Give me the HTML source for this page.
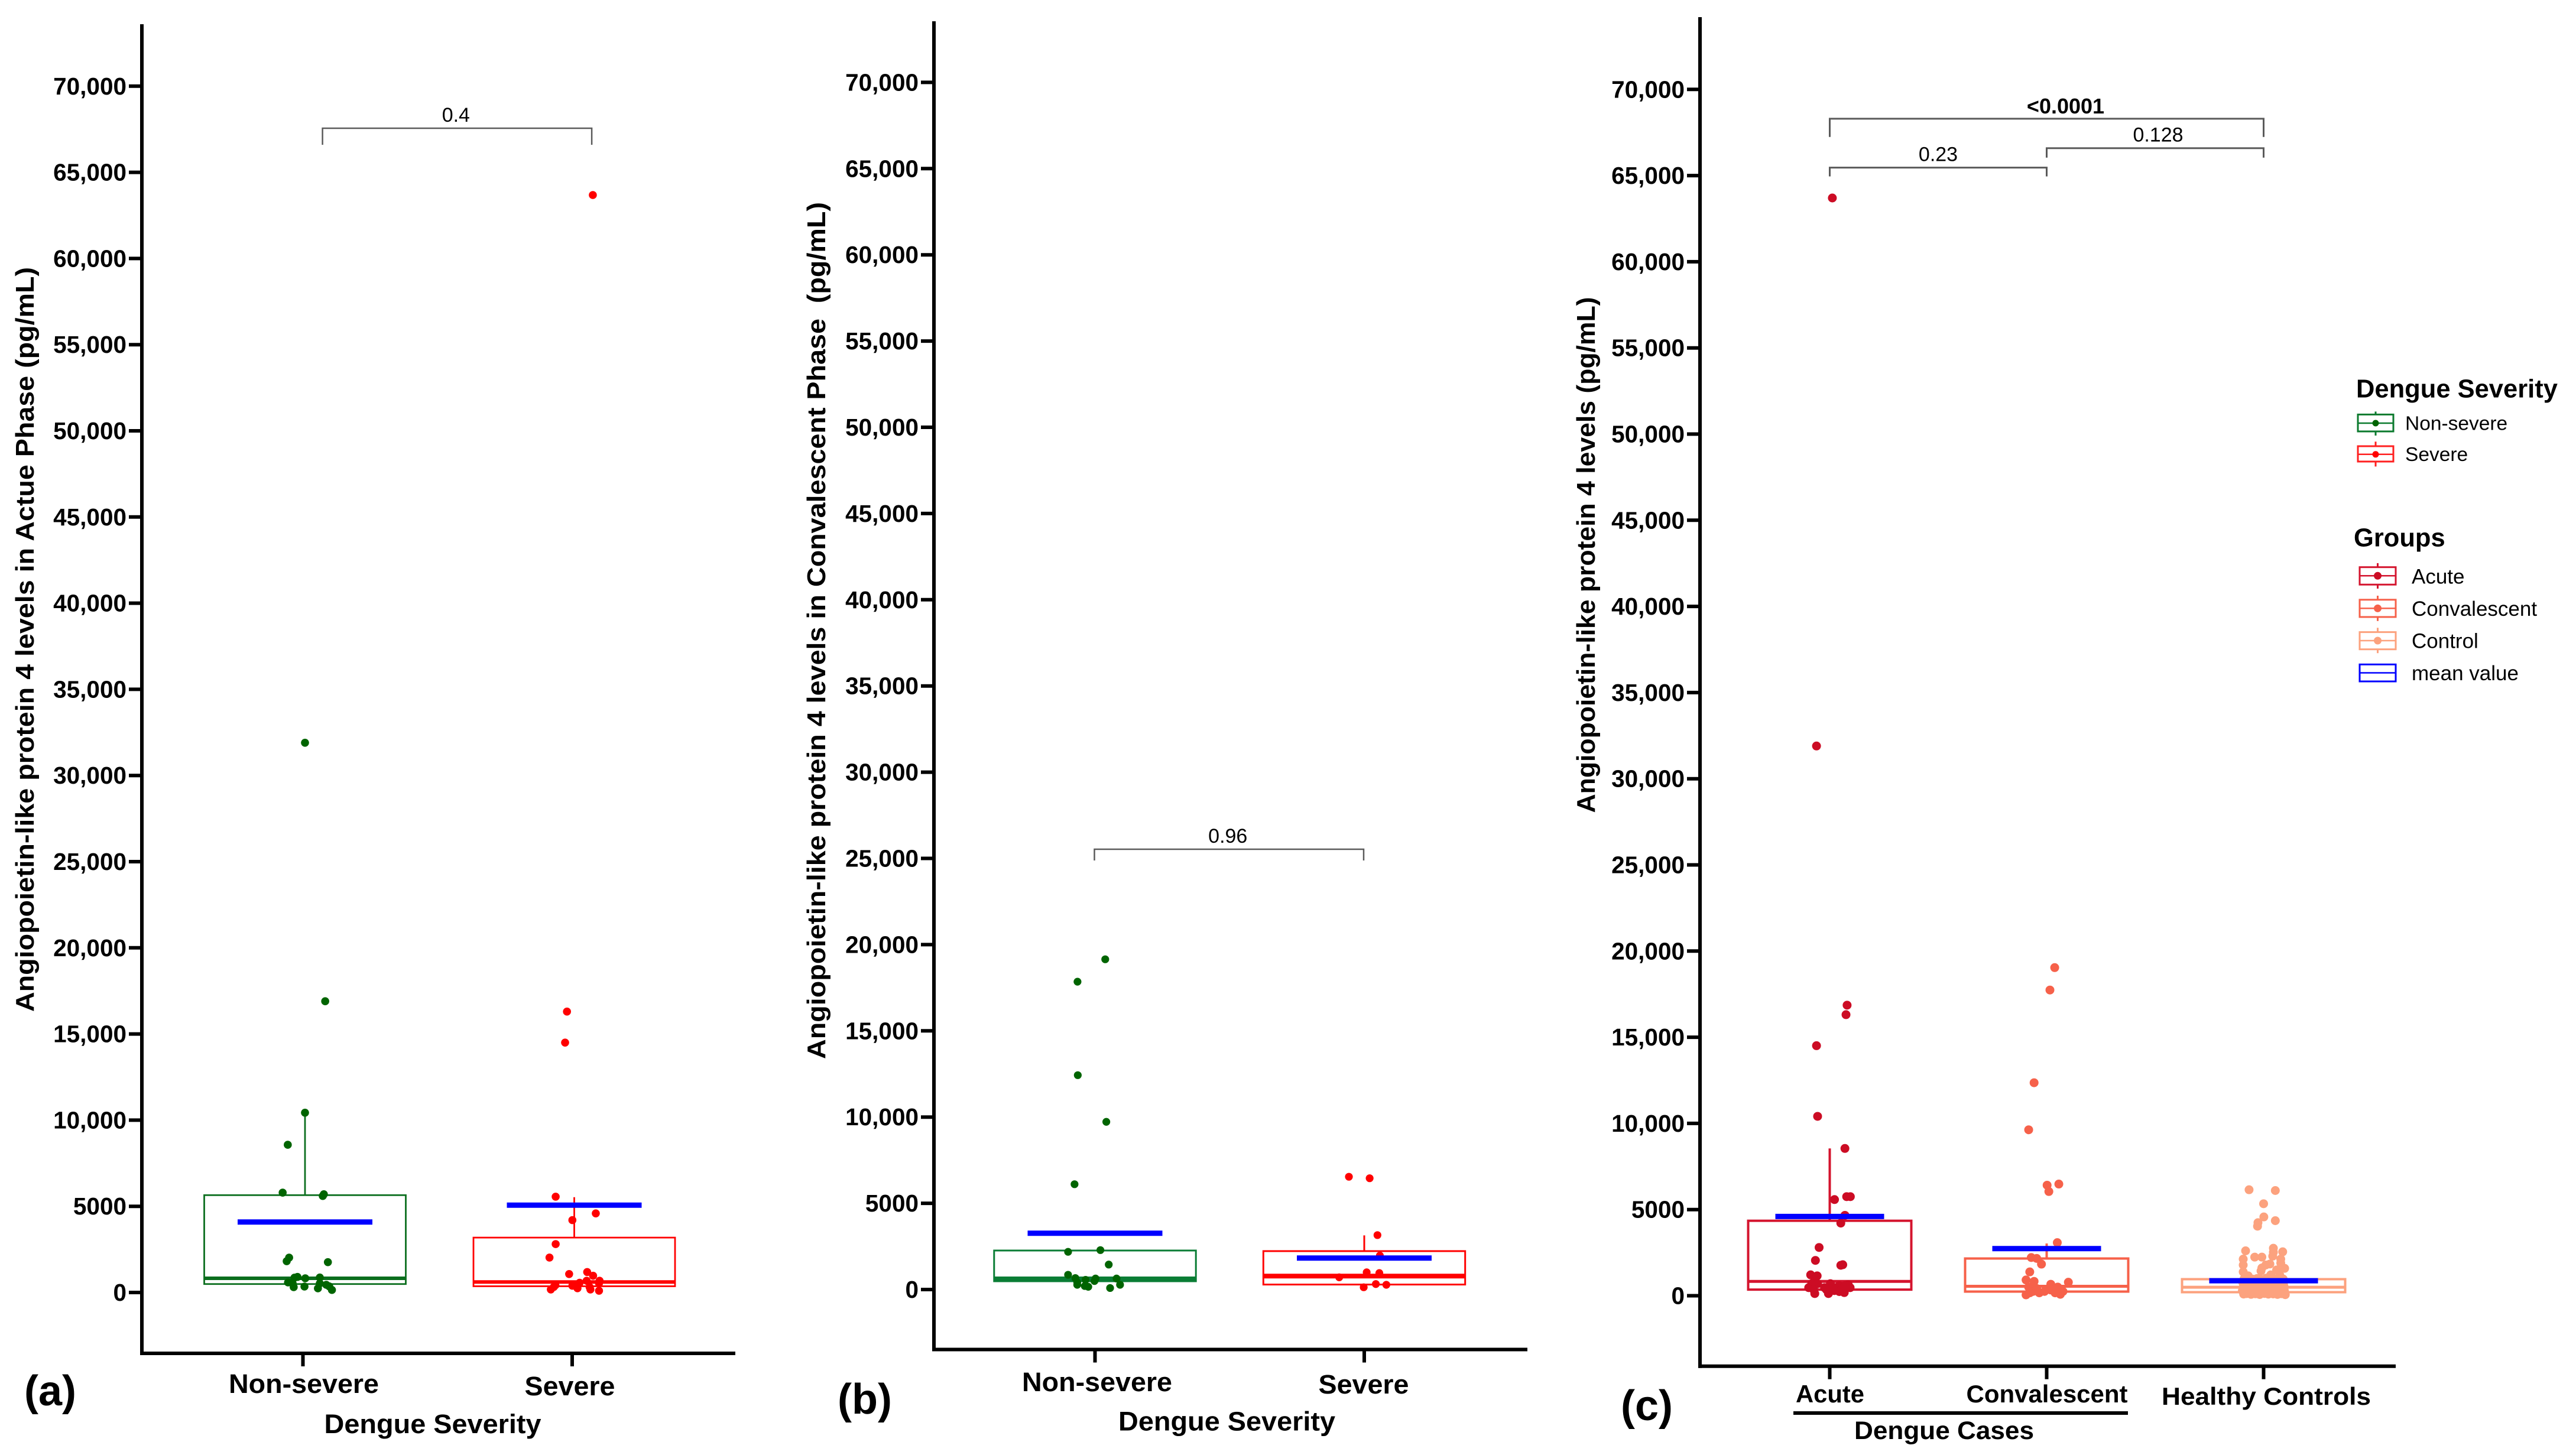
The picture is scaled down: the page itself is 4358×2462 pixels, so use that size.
<!DOCTYPE html>
<html lang="en">
<head>
<meta charset="utf-8">
<title>Angiopoietin-like protein 4 levels in dengue</title>
<style>
html,body{margin:0;padding:0;background:#fff;}
svg{display:block;font-family:"Liberation Sans",Arial,sans-serif;}
</style>
</head>
<body>
<svg id="figure" xmlns="http://www.w3.org/2000/svg" width="4358" height="2462" viewBox="0 0 4358 2462">
<rect width="4358" height="2462" fill="#ffffff"/>
</svg>
<script>
// ---------- shared axis data ----------
const tickValues = [0,5000,10000,15000,20000,25000,30000,35000,40000,45000,50000,55000,60000,65000,70000];
const tickLabels = ['0','5000','10,000','15,000','20,000','25,000','30,000','35,000','40,000','45,000','50,000','55,000','60,000','65,000','70,000'];

// ---------- panel (a) data ----------
const aCategories = ['Non-severe','Severe'];
const aNonSevereValues = [31900,16900,10433,8570,5795,5700,5600,2023,1817,1760,902,860,823,868,583,525,309,343,240,525,446,353,147];
const aNonSevereJitter = [0,.075,0,-.064,-.083,.07,.066,-.059,-.068,.085,-.028,-.039,.001,.055,-.063,-.046,-.042,-.002,.048,.055,.079,.09,.1];
const aSevereValues = [63683,16300,14500,5559,4589,4198,2808,2027,1071,1187,970,680,565,680,420,318,174,391,246,463,318,174,101,536];
const aSevereJitter = [.069,-.027,-.034,-.069,.08,-.007,-.069,-.092,-.019,.048,.07,.046,.02,.094,-.07,-.076,-.087,-.007,.012,.015,.057,.06,.092,.092];
const aQ1 = [490,362];
const aMedian = [823,608];
const aQ3 = [5648,3185];
const aMean = [4091,5067];
const aWhiskerTop = [10433,5530];

// ---------- panel (b) data ----------
const bCategories = ['Non-severe','Severe'];
const bNonSevereValues = [19150,17850,12430,9724,6106,2185,2286,1447,854,666,420,564,637,637,275,203,159,87,492,275];
const bNonSevereJitter = [.038,-.065,-.064,.042,-.076,-.1,.02,.051,-.1,-.073,-.066,-.035,.002,.08,.093,-.038,-.025,.056,-.002,-.066];
const bSevereValues = [6540,6454,3155,1968,998,955,709,130,318,275];
const bSevereJitter = [-.057,.02,.049,.058,.009,.056,-.093,-.002,.043,.082];
const bQ1 = [480,289];
const bMedian = [617,781];
const bQ3 = [2262,2228];
const bMean = [3266,1823];
const bWhiskerTop = [2262,3140];

// ---------- panel (c) data ----------
const cCategories = ['Acute','Convalescent','Healthy Controls'];
const cAcuteValues = [63700,31900,16860,16310,14510,10410,8546,5580,5750,5750,4665,4215,2800,2050,1800,1766,1212,1155,926,697,697,469,354,126,354,126,697,469,469,583,240,183,583,469,640,297,411,469];
const cAcuteJitter = [.012,-.061,.08,.075,-.061,-.056,.07,.022,.078,.095,.07,.051,-.049,-.066,.06,.051,-.088,-.058,-.069,-.083,-.056,-.097,-.074,-.069,-.015,-.006,.003,.008,.026,.044,.044,.067,.071,.094,.085,.021,.058,-.024];
const cConvalescentValues = [19040,17740,12360,9630,6414,6480,6048,3082,2216,2166,1833,1383,916,833,500,50,250,167,666,333,500,783,83,250,167,416,167,250];
const cConvalescentJitter = [.037,.015,-.058,-.083,.002,.056,.01,.049,-.071,-.046,-.024,-.078,-.095,-.058,-.083,-.095,-.063,-.034,.019,.019,.051,.1,.063,-.01,.039,-.046,-.078,.075];
const cControlValues = [6150,6104,5338,4572,4355,4240,4035,2606,2755,2526,2549,2240,2240,2297,2126,2126,1783,1783,1897,1612,1840,1589,1497,1383,1440,1154,1212,1212,
  985,1010,960,1000,940,1020,990,965,1005,975,
  770,735,790,710,760,800,745,720,780,755,
  510,545,480,530,500,560,470,525,495,540,
  290,320,265,300,340,275,310,250,330,285,
  95,120,80,110,70,130,90,105,75,115,60];
const cControlJitter = [-.067,.054,0,.001,.054,-.026,-.028,-.083,.045,.045,.088,-.041,-.008,.042,-.094,.079,-.094,.01,.079,-.008,.029,.097,.06,-.094,-.012,-.071,.033,.074,
  -.09,-.07,-.05,-.03,-.01,.012,.03,.05,.07,.09,
  -.096,-.074,-.056,-.034,-.014,.006,.028,.046,.068,.092,
  -.094,-.076,-.052,-.036,-.012,.008,.024,.048,.066,.094,
  -.098,-.072,-.054,-.032,-.016,.01,.026,.052,.072,.096,
  -.092,-.078,-.058,-.038,-.018,.004,.022,.044,.064,.082,.1];
const cQ1 = [355,240,206];
const cMedian = [830,549,494];
const cQ3 = [4350,2160,960];
const cMean = [4600,2733,871];
const cWhiskerTop = [8546,3032,960];

// ---------- helpers ----------
const SVGNS = 'http://www.w3.org/2000/svg';
const root = document.getElementById('figure');
function el(tag, attrs, parent, txt){
  const n = document.createElementNS(SVGNS, tag);
  for (const k in attrs) n.setAttribute(k, attrs[k]);
  if (txt !== undefined) n.textContent = txt;
  (parent || root).appendChild(n);
  return n;
}

function drawPanel(p){
  const g = el('g', {});
  
  
  const yScale = v => p.y0 - v * p.pxPerUnit;
  const xScale = c => p.x0 + p.step * c;

  // axes
  const yAxis = el('line', {x1:p.axisX,x2:p.axisX,y1:p.axisTop,y2:p.axisBottom+3,stroke:'#000','stroke-width':6}, g);
  
  
  const xAxis = el('line', {x1:p.axisX-3,x2:p.axisRight,y1:p.axisBottom,y2:p.axisBottom,stroke:'#000','stroke-width':6}, g);
  
  

  // y ticks
  tickValues.forEach((v,i)=>{
    const t = el('line', {x1:p.axisX-22,x2:p.axisX,y1:yScale(v),y2:yScale(v),stroke:'#000','stroke-width':6}, g);
    
    
    const l = el('text', {x:p.axisX-26,y:yScale(v)+14,'text-anchor':'end','font-size':40.5,'font-weight':'bold',fill:'#000'}, g, tickLabels[i]);
    
    
  });

  // categories
  p.categories.forEach((name,c)=>{
    const cx = xScale(c);
    const t = el('line', {x1:cx+p.tickDx,x2:cx+p.tickDx,y1:p.axisBottom,y2:p.axisBottom+22,stroke:'#000','stroke-width':6}, g);
    
    
    const ld = p.labels[c];
    const l = el('text', {x:ld.x,y:ld.y,'text-anchor':'middle','font-size':ld.size,'font-weight':'bold',fill:'#000',textLength:ld.len,lengthAdjust:'spacingAndGlyphs'}, g, name);
    
    

    const color = p.boxColors[c];
    const wh = el('line', {x1:cx,x2:cx,y1:yScale(p.q3[c]),y2:yScale(p.whisker[c]),stroke:color,'stroke-width':p.boxStroke}, g);
    
    
    const box = el('rect', {x:cx-p.boxHalf,y:yScale(p.q3[c]),width:p.boxHalf*2,height:yScale(p.q1[c])-yScale(p.q3[c]),fill:'none',stroke:color,'stroke-width':p.boxStroke}, g);
    
    
    const med = el('line', {x1:cx-p.boxHalf,x2:cx+p.boxHalf,y1:yScale(p.median[c]),y2:yScale(p.median[c]),stroke:color,'stroke-width':p.medianStroke}, g);
    
    

    const vals = p.values[c], jit = p.jitter[c];
    vals.forEach((v,i)=>{
      const dot = el('circle', {cx:xScale(c + jit[i]),cy:yScale(v),r:p.dotR,fill:p.dotColors[c]}, g);
      
      
    });

    const mean = el('line', {x1:cx-p.meanHalf,x2:cx+p.meanHalf,y1:yScale(p.mean[c]),y2:yScale(p.mean[c]),stroke:'#0000ff','stroke-width':p.meanStroke}, g);
    
    
  });

  // significance brackets
  p.brackets.forEach(b=>{
    const x1 = xScale(b.from)+p.bracketDx, x2 = xScale(b.to)+p.bracketDx;
    const yT = yScale(b.top), yD = yScale(b.drop);
    const br = el('path', {d:`M${x1} ${yD}V${yT}H${x2}V${yD}`,fill:'none',stroke:'#5a5a5a','stroke-width':p.bracketStroke}, g);
    
    
    const t = el('text', {x:(x1+x2)/2+b.dx,y:yT-(b.bold?9:11),'text-anchor':'middle','font-size':b.bold?36:34,'font-weight':b.bold?'bold':'normal',fill:'#000'}, g, b.label);
    
    
  });

  // titles
  const yt = el('text', {transform:`translate(${p.yTitle.x} ${p.yTitle.cy}) rotate(-90)`,'text-anchor':'middle','font-size':44,'font-weight':'bold',fill:'#000',textLength:p.yTitle.len,lengthAdjust:'spacingAndGlyphs'}, g, p.yTitle.text);
  
  
  const xt = el('text', {x:p.xTitle.x,y:p.xTitle.y,'text-anchor':'middle','font-size':p.xTitle.size,'font-weight':'bold',fill:'#000',textLength:p.xTitle.len,lengthAdjust:'spacingAndGlyphs'}, g, p.xTitle.text);
  
  
  const letter = el('text', {x:p.letter.x,y:p.letter.y,'text-anchor':'middle','font-size':72,'font-weight':'bold',fill:'#000'}, g, p.letter.text);
  
  
}

drawPanel({
  id:'panel-a', axisX:240, axisTop:41, axisBottom:2290, axisRight:1244,
  y0:2187, pxPerUnit:.02916, x0:516, step:455.5, tickDx:-3.5,
  boxHalf:170.5, meanHalf:114, boxStroke:2.8, medianStroke:6, meanStroke:9, dotR:6.8, bracketDx:29.6, bracketStroke:2.5,
  categories:aCategories,
  labels:[{x:514,y:2357,size:45,len:254},{x:964,y:2361,size:45,len:153}],
  boxColors:['#0b6e1e','#ff0000'], dotColors:['#006400','#ff0000'],
  values:[aNonSevereValues,aSevereValues], jitter:[aNonSevereJitter,aSevereJitter],
  q1:aQ1, median:aMedian, q3:aQ3, mean:aMean, whisker:aWhiskerTop,
  brackets:[{from:0,to:1,top:67558,drop:66598,label:'0.4',dx:-2}],
  yTitle:{x:57,cy:1082,len:1260,text:'Angiopoietin-like protein 4 levels in Actue Phase (pg/mL)'},
  xTitle:{x:732,y:2425,size:45,len:367,text:'Dengue Severity'},
  letter:{x:85,y:2378,text:'(a)'}
});

drawPanel({
  id:'panel-b', axisX:1580, axisTop:36, axisBottom:2283.5, axisRight:2584,
  y0:2182, pxPerUnit:.02918, x0:1852.5, step:455.5, tickDx:0,
  boxHalf:170.7, meanHalf:114, boxStroke:3, medianStroke:8, meanStroke:9, dotR:6.6, bracketDx:-1, bracketStroke:2.5,
  categories:bCategories,
  labels:[{x:1856,y:2354,size:45,len:254},{x:2307,y:2358,size:45,len:153}],
  boxColors:['#0a7d35','#ff0000'], dotColors:['#006400','#ff0000'],
  values:[bNonSevereValues,bSevereValues], jitter:[bNonSevereJitter,bSevereJitter],
  q1:bQ1, median:bMedian, q3:bQ3, mean:bMean, whisker:bWhiskerTop,
  brackets:[{from:0,to:1,top:25531,drop:24880,label:'0.96',dx:-2}],
  yTitle:{x:1396,cy:1067,len:1450,text:'Angiopoietin-like protein 4 levels in Convalescent Phase\u00a0 (pg/mL)'},
  xTitle:{x:2075.5,y:2420.5,size:45,len:367,text:'Dengue Severity'},
  letter:{x:1463,y:2392,text:'(b)'}
});

drawPanel({
  id:'panel-c', axisX:2876, axisTop:29, axisBottom:2311.7, axisRight:4053,
  y0:2192.5, pxPerUnit:.02916, x0:3095.5, step:367, tickDx:0,
  boxHalf:138, meanHalf:92, boxStroke:4, medianStroke:5, meanStroke:9, dotR:7.5, bracketDx:0, bracketStroke:3,
  categories:cCategories,
  labels:[{x:3096,y:2373,size:42,len:116},{x:3463,y:2373,size:42,len:273},{x:3834,y:2377,size:42,len:354}],
  boxColors:['#d4142e','#f6614a','#fca27e'], dotColors:['#cc0c24','#f6614a','#fca27e'],
  values:[cAcuteValues,cConvalescentValues,cControlValues], jitter:[cAcuteJitter,cConvalescentJitter,cControlJitter],
  q1:cQ1, median:cMedian, q3:cQ3, mean:cMean, whisker:cWhiskerTop,
  brackets:[
    {from:0,to:2,top:68300,drop:67240,label:'<0.0001',bold:true,dx:32},
    {from:1,to:2,top:66590,drop:66040,label:'0.128',dx:5},
    {from:0,to:1,top:65460,drop:64950,label:'0.23',dx:0}
  ],
  yTitle:{x:2698,cy:939,len:873,text:'Angiopoietin-like protein 4 levels (pg/mL)'},
  xTitle:{x:3289,y:2435,size:43,len:304,text:'Dengue Cases'},
  letter:{x:2786,y:2403,text:'(c)'}
});

// dengue-cases underline
const casesLine = el('line', {x1:3034,x2:3600,y1:2391,y2:2391,stroke:'#000','stroke-width':6});



// ---------- legend ----------
const legendGroups = [
  {title:'Dengue Severity', x:3986, y:672.7, entries:[
    {label:'Non-severe', box:3989, w:60, top:701.4, bot:730, mid:716, wt:696.4, wb:737, tx:4069, ty:727.4, color:'#0b7a2e', dot:'#006400', r:5.5},
    {label:'Severe', box:3989, w:60, top:755, bot:781, mid:768.8, wt:747.3, wb:789.4, tx:4069, ty:780, color:'#ff2020', dot:'#ff0000', r:5.5}
  ]},
  {title:'Groups', x:3982, y:924.5, entries:[
    {label:'Acute', box:3992, w:61, top:959.7, bot:989.2, mid:974.3, wt:952.9, wb:996, tx:4080, ty:987.3, color:'#d4142e', dot:'#cc0c24', r:6.5},
    {label:'Convalescent', box:3992, w:61, top:1014.8, bot:1044, mid:1029.4, wt:1008, wb:1050.8, tx:4080, ty:1042, color:'#f6614a', dot:'#f6614a', r:6.5},
    {label:'Control', box:3992, w:61, top:1069.6, bot:1098.7, mid:1084, wt:1062.3, wb:1105.2, tx:4080, ty:1096.4, color:'#fca27e', dot:'#fca27e', r:6.5},
    {label:'mean value', box:3992, w:61, top:1124.3, bot:1153, mid:1138.5, wt:null, wb:null, tx:4080, ty:1151, color:'#0000ff', dot:null, r:0}
  ]}
];
legendGroups.forEach(lg=>{
  const t = el('text', {x:lg.x,y:lg.y,'font-size':43.5,'font-weight':'bold',fill:'#000'}, root, lg.title);
  
  
  lg.entries.forEach(e=>{
    const g = el('g', {});
    
    
    const cx = e.box + e.w/2;
    if (e.wt !== null) el('line', {x1:cx,x2:cx,y1:e.wt,y2:e.wb,stroke:e.color,'stroke-width':3}, g);
    el('rect', {x:e.box,y:e.top,width:e.w,height:e.bot-e.top,fill:'#fff',stroke:e.color,'stroke-width':3}, g);
    el('line', {x1:e.box,x2:e.box+e.w,y1:e.mid,y2:e.mid,stroke:e.color,'stroke-width':2.5}, g);
    if (e.dot) el('circle', {cx:cx,cy:e.mid,r:e.r,fill:e.dot}, g);
    el('text', {x:e.tx,y:e.ty,'font-size':lg.title==='Groups'?35:33.5,fill:'#000'}, g, e.label);
  });
});
</script>
</body>
</html>
